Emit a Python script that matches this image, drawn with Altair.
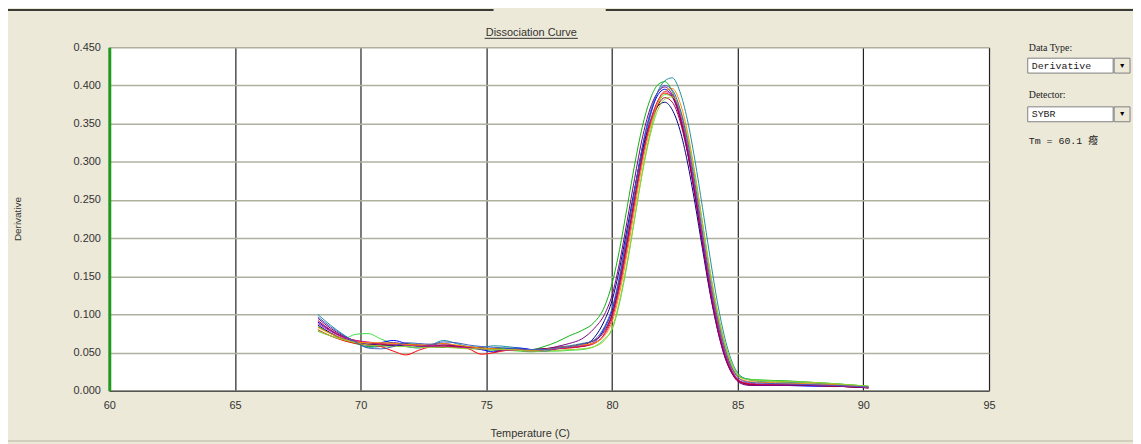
import altair as alt
import pandas as pd

# ---------------- data ----------------
temps = [68.3, 68.8, 69.3, 69.8, 70.3, 70.8, 71.3, 71.8, 72.3, 72.8,
         73.3, 73.8, 74.3, 74.8, 75.3, 75.8, 76.3, 76.8, 77.3, 77.8,
         78.3, 78.8, 79.3, 79.7, 80.0, 80.3, 80.6, 80.9, 81.2, 81.5,
         81.8, 82.1, 82.4, 82.7, 83.0, 83.3, 83.6, 83.9, 84.2, 84.5,
         84.8, 85.1, 85.5, 86.0, 87.0, 88.0, 89.0, 90.2]

well_A = [0.084, 0.075, 0.067, 0.062, 0.058, 0.059, 0.061, 0.062, 0.060, 0.058, 0.057, 0.058, 0.057, 0.056, 0.055, 0.056, 0.055, 0.054, 0.058, 0.064, 0.072, 0.079, 0.090, 0.110, 0.140, 0.185, 0.240, 0.296, 0.345, 0.380, 0.400, 0.405, 0.392, 0.362, 0.318, 0.262, 0.198, 0.138, 0.088, 0.050, 0.028, 0.018, 0.015, 0.014, 0.013, 0.011, 0.009, 0.006]
well_B = [0.078, 0.072, 0.068, 0.074, 0.075, 0.068, 0.062, 0.058, 0.057, 0.058, 0.059, 0.057, 0.056, 0.054, 0.053, 0.053, 0.052, 0.051, 0.052, 0.052, 0.053, 0.054, 0.058, 0.068, 0.080, 0.115, 0.165, 0.225, 0.285, 0.335, 0.372, 0.388, 0.386, 0.368, 0.332, 0.280, 0.218, 0.156, 0.102, 0.060, 0.032, 0.019, 0.015, 0.014, 0.012, 0.011, 0.009, 0.006]
well_C = [0.100, 0.086, 0.074, 0.064, 0.057, 0.058, 0.060, 0.058, 0.056, 0.060, 0.066, 0.062, 0.058, 0.057, 0.059, 0.058, 0.056, 0.054, 0.055, 0.057, 0.059, 0.062, 0.066, 0.080, 0.100, 0.140, 0.195, 0.252, 0.310, 0.356, 0.390, 0.406, 0.410, 0.392, 0.355, 0.302, 0.240, 0.175, 0.115, 0.068, 0.036, 0.020, 0.014, 0.012, 0.011, 0.010, 0.008, 0.005]
well_D = [0.090, 0.079, 0.070, 0.064, 0.060, 0.063, 0.066, 0.062, 0.058, 0.060, 0.062, 0.059, 0.057, 0.054, 0.051, 0.055, 0.056, 0.054, 0.052, 0.055, 0.057, 0.058, 0.064, 0.082, 0.105, 0.148, 0.205, 0.262, 0.318, 0.360, 0.386, 0.395, 0.385, 0.358, 0.314, 0.258, 0.196, 0.136, 0.086, 0.048, 0.024, 0.012, 0.008, 0.007, 0.007, 0.006, 0.006, 0.004]
well_E = [0.086, 0.076, 0.068, 0.063, 0.061, 0.060, 0.059, 0.060, 0.059, 0.058, 0.057, 0.058, 0.057, 0.056, 0.054, 0.053, 0.053, 0.054, 0.055, 0.056, 0.057, 0.059, 0.070, 0.092, 0.118, 0.160, 0.212, 0.265, 0.314, 0.350, 0.372, 0.378, 0.368, 0.342, 0.300, 0.246, 0.186, 0.128, 0.080, 0.044, 0.022, 0.012, 0.009, 0.008, 0.008, 0.007, 0.006, 0.004]
well_F = [0.080, 0.072, 0.066, 0.062, 0.060, 0.058, 0.052, 0.047, 0.053, 0.058, 0.060, 0.058, 0.055, 0.048, 0.050, 0.053, 0.054, 0.053, 0.054, 0.055, 0.056, 0.058, 0.062, 0.075, 0.098, 0.138, 0.192, 0.250, 0.306, 0.350, 0.378, 0.390, 0.385, 0.360, 0.318, 0.262, 0.198, 0.136, 0.085, 0.046, 0.023, 0.012, 0.009, 0.008, 0.008, 0.007, 0.006, 0.004]
well_G = [0.092, 0.080, 0.071, 0.066, 0.063, 0.061, 0.060, 0.061, 0.060, 0.059, 0.058, 0.058, 0.057, 0.056, 0.055, 0.054, 0.054, 0.054, 0.055, 0.057, 0.058, 0.061, 0.066, 0.078, 0.100, 0.142, 0.196, 0.252, 0.305, 0.346, 0.372, 0.384, 0.378, 0.354, 0.312, 0.256, 0.194, 0.134, 0.084, 0.046, 0.022, 0.011, 0.008, 0.008, 0.008, 0.007, 0.006, 0.004]
well_H = [0.095, 0.082, 0.072, 0.065, 0.061, 0.062, 0.063, 0.061, 0.059, 0.058, 0.060, 0.059, 0.057, 0.055, 0.054, 0.054, 0.053, 0.052, 0.054, 0.058, 0.062, 0.068, 0.082, 0.100, 0.125, 0.168, 0.222, 0.278, 0.330, 0.368, 0.390, 0.398, 0.388, 0.360, 0.315, 0.256, 0.192, 0.130, 0.080, 0.043, 0.021, 0.010, 0.007, 0.007, 0.007, 0.007, 0.006, 0.004]
well_I = [0.088, 0.078, 0.070, 0.066, 0.064, 0.062, 0.061, 0.060, 0.059, 0.059, 0.058, 0.057, 0.056, 0.055, 0.054, 0.053, 0.053, 0.053, 0.054, 0.055, 0.057, 0.059, 0.063, 0.074, 0.094, 0.134, 0.186, 0.245, 0.302, 0.348, 0.378, 0.392, 0.388, 0.364, 0.322, 0.266, 0.202, 0.140, 0.088, 0.049, 0.025, 0.013, 0.010, 0.009, 0.009, 0.008, 0.007, 0.005]
well_J = [0.083, 0.075, 0.068, 0.064, 0.063, 0.063, 0.062, 0.061, 0.060, 0.061, 0.062, 0.060, 0.058, 0.056, 0.055, 0.054, 0.054, 0.053, 0.054, 0.056, 0.058, 0.060, 0.063, 0.072, 0.090, 0.128, 0.180, 0.238, 0.296, 0.342, 0.375, 0.392, 0.396, 0.378, 0.340, 0.285, 0.220, 0.154, 0.098, 0.056, 0.029, 0.016, 0.012, 0.011, 0.010, 0.009, 0.008, 0.005]
well_K = [0.079, 0.072, 0.067, 0.063, 0.060, 0.059, 0.058, 0.058, 0.057, 0.057, 0.057, 0.056, 0.055, 0.055, 0.054, 0.054, 0.053, 0.052, 0.052, 0.053, 0.054, 0.055, 0.058, 0.066, 0.082, 0.118, 0.168, 0.226, 0.284, 0.332, 0.366, 0.382, 0.385, 0.370, 0.334, 0.282, 0.220, 0.158, 0.104, 0.062, 0.033, 0.018, 0.014, 0.013, 0.012, 0.011, 0.009, 0.006]
well_L = [0.097, 0.084, 0.073, 0.064, 0.056, 0.055, 0.058, 0.063, 0.062, 0.061, 0.064, 0.063, 0.060, 0.058, 0.057, 0.056, 0.055, 0.054, 0.054, 0.056, 0.058, 0.061, 0.067, 0.084, 0.108, 0.150, 0.206, 0.262, 0.318, 0.362, 0.390, 0.400, 0.394, 0.370, 0.328, 0.272, 0.208, 0.146, 0.094, 0.054, 0.028, 0.015, 0.011, 0.010, 0.009, 0.008, 0.007, 0.005]

well_names = ["A", "B", "C", "D", "E", "F", "G", "H", "I", "J", "K", "L"]
well_values = [well_A, well_B, well_C, well_D, well_E, well_F,
               well_G, well_H, well_I, well_J, well_K, well_L]
well_colors = ["#10b010", "#40dd40", "#1e90a0", "#0000ff", "#000080", "#ff0000",
               "#b00030", "#800080", "#d02090", "#ff8c00", "#9acd32", "#4060c0"]

x_ticks = [60, 65, 70, 75, 80, 85, 90, 95]
y_ticks = [0.0, 0.05, 0.10, 0.15, 0.20, 0.25, 0.30, 0.35, 0.40, 0.45]

rows = []
for name, vals in zip(well_names, well_values):
    for t, v in zip(temps, vals):
        rows.append({"well": name, "temp": t, "deriv": v})
df = pd.DataFrame(rows)

# ---------------- chart ----------------
W, H = 886, 346
PAD = {"left": 102, "top": 38, "right": 145, "bottom": 52}
BG = "#ECE9D8"

lines = alt.Chart(df).mark_line(strokeWidth=1, interpolate="monotone").encode(
    x=alt.X("temp:Q",
            scale=alt.Scale(domain=[60, 95], nice=False, zero=False),
            axis=alt.Axis(values=x_ticks, format="d", title=None, grid=True,
                          gridColor="#222222", gridWidth=1.2, domainColor="#555555",
                          domainWidth=1.5, ticks=False, labelPadding=9,
                          labelFlush=False, labelFontSize=11, labelColor="#333333",
                          labelFont="Liberation Sans")),
    y=alt.Y("deriv:Q",
            scale=alt.Scale(domain=[0, 0.45], nice=False),
            axis=alt.Axis(values=y_ticks, format=".3f", title=None, grid=True,
                          gridColor="#b0b0a0", gridWidth=1.5, domainColor="#1f9a1f",
                          domainWidth=3, ticks=False, labelPadding=9,
                          labelFlush=False, labelFontSize=11, labelColor="#333333",
                          labelFont="Liberation Sans")),
    color=alt.Color("well:N", scale=alt.Scale(domain=well_names, range=well_colors),
                    legend=None),
)

one = pd.DataFrame({"k": [0]})


def txt(s, x, y, font="Liberation Sans", size=11, color="#333333", align="left",
        baseline="middle", angle=0):
    return alt.Chart(one).mark_text(font=font, fontSize=size, color=color, align=align,
                                    baseline=baseline, angle=angle).encode(
        x=alt.value(x), y=alt.value(y), text=alt.value(s))


def box(x1, x2, y1, y2, fill, stroke):
    return alt.Chart(one).mark_rect(fill=fill, stroke=stroke, strokeWidth=1).encode(
        x=alt.value(x1), x2=alt.value(x2), y=alt.value(y1), y2=alt.value(y2))


def hrule(x1, x2, y, color, width):
    return alt.Chart(one).mark_rule(color=color, strokeWidth=width).encode(
        x=alt.value(x1), x2=alt.value(x2), y=alt.value(y))


decor = [
    hrule(-102, 387, -37.5, "#000000", 1.5),
    hrule(500, 1031, -37.5, "#000000", 1.5),
    txt("Dissociation Curve", 425, -11, align="center", baseline="alphabetic"),
    hrule(378, 472, -9, "#333333", 1),
    txt("Derivative", -92, H / 2, size=10, align="center", angle=270),
    txt("Temperature (C)", 424, 390, align="center"),
    hrule(-102, 1031, 396.5, "#b8b4a4", 1),
    txt("Data Type:", 926, 1, font="Liberation Serif", size=10, color="#222222"),
    box(925, 1011, 11, 26, "#ffffff", "#808080"),
    txt("Derivative", 929, 18.5, font="Liberation Mono", size=10, color="#222222"),
    box(1012, 1028, 11, 26, BG, "#808080"),
    txt("▼", 1020, 18.5, size=7, color="#000000", align="center"),
    txt("Detector:", 926, 48, font="Liberation Serif", size=10, color="#222222"),
    box(925, 1011, 60, 75, "#ffffff", "#808080"),
    txt("SYBR", 929, 67.5, font="Liberation Mono", size=10, color="#222222"),
    box(1012, 1028, 60, 75, BG, "#808080"),
    txt("▼", 1020, 67.5, size=7, color="#000000", align="center"),
    txt("Tm = 60.1 癈", 926, 94, font="Liberation Mono, Noto Sans CJK SC", size=10,
        color="#222222"),
]

chart = alt.layer(lines, *decor).properties(
    width=W, height=H, padding=PAD,
    autosize=alt.AutoSizeParams(type="none"),
    background=BG,
).configure_view(fill="white", stroke=None)

chart.save("out.html", embed_options={"renderer": "svg", "actions": False})
